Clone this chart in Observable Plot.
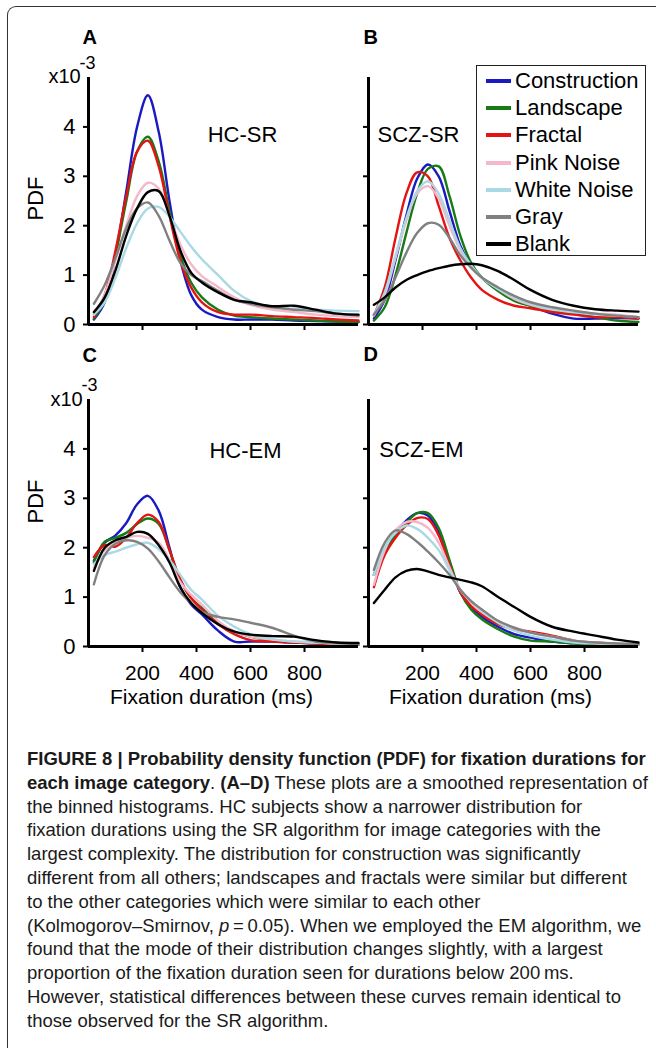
<!DOCTYPE html>
<html>
<head>
<meta charset="utf-8">
<script src="https://cdn.jsdelivr.net/npm/d3@7"></script>
<script src="https://cdn.jsdelivr.net/npm/@observablehq/plot@0.6"></script>
<style>
  html, body { margin: 0; padding: 0; background: #fff; }
  body { width: 656px; height: 1058px; position: relative; overflow: hidden; font-family: "Liberation Sans", Arial, sans-serif; }
  .abs { position: absolute; }
  #frame { position: absolute; left: 7px; top: 6px; width: 720px; height: 1041px; border-top: 1.5px solid #333; border-left: 1.5px solid #333; border-top-left-radius: 9px; }
  #legend { position: absolute; left: 476px; top: 65px; width: 168px; height: 189px; border: 1.5px solid #222; background: #fff; }
  .lrow { position: absolute; left: 0; height: 26px; font-size: 22px; line-height: 26px; color: #000; white-space: nowrap; }
  .sw { position: absolute; left: 9px; top: 11px; width: 25px; height: 4px; }
  .lt { position: absolute; left: 38px; top: 0; }
  #caption { position: absolute; left: 27px; top: 747px; font-size: 18.5px; line-height: 23.8px; color: #1a1a1a; white-space: nowrap; }
</style>
</head>
<body>
<div id="frame"></div>
<div id="pA" class="abs" style="left:0;top:0"></div>
<div id="pB" class="abs" style="left:363px;top:0"></div>
<div id="pC" class="abs" style="left:0;top:335px"></div>
<div id="pD" class="abs" style="left:363px;top:335px"></div>
<div id="legend"></div>
<div id="caption">
<div><b>FIGURE 8 | Probability density function (PDF) for fixation durations for</b></div>
<div><b>each image category</b>. <b>(A–D)</b> These plots are a smoothed representation of</div>
<div>the binned histograms. HC subjects show a narrower distribution for</div>
<div>fixation durations using the SR algorithm for image categories with the</div>
<div>largest complexity. The distribution for construction was significantly</div>
<div>different from all others; landscapes and fractals were similar but different</div>
<div>to the other categories which were similar to each other</div>
<div>(Kolmogorov–Smirnov, <i>p</i>&#8201;=&#8201;0.05). When we employed the EM algorithm, we</div>
<div>found that the mode of their distribution changes slightly, with a largest</div>
<div>proportion of the fixation duration seen for durations below 200&#8201;ms.</div>
<div>However, statistical differences between these curves remain identical to</div>
<div>those observed for the SR algorithm.</div>
</div>
<script>
// ---------- DATA ----------
const durations = [20, 60, 100, 140, 180, 220, 260, 300, 340, 380, 420, 480, 540, 600, 680, 760, 840, 920, 1000];
const categories = ["Construction", "Landscape", "Fractal", "Pink Noise", "White Noise", "Gray", "Blank"];
const colors = ["#1a1ac0", "#167a16", "#e41414", "#f5b7c9", "#a9d9e4", "#808080", "#000000"];
const yTicks = [0, 1, 2, 3, 4];
const xTicks = [200, 400, 600, 800];

// PDF values (x10^-3), one row per category, in category order
const hcSR = [
  [0.10, 0.45, 1.40, 2.70, 4.00, 4.64, 3.90, 2.50, 1.30, 0.60, 0.30, 0.15, 0.10, 0.10, 0.10, 0.08, 0.07, 0.06, 0.05],
  [0.12, 0.50, 1.40, 2.50, 3.50, 3.80, 3.30, 2.30, 1.40, 0.85, 0.55, 0.30, 0.18, 0.15, 0.12, 0.10, 0.08, 0.06, 0.05],
  [0.15, 0.60, 1.50, 2.60, 3.50, 3.72, 3.20, 2.20, 1.30, 0.75, 0.45, 0.25, 0.20, 0.20, 0.17, 0.15, 0.13, 0.10, 0.08],
  [0.20, 0.60, 1.30, 2.00, 2.60, 2.87, 2.75, 2.20, 1.62, 1.22, 0.98, 0.76, 0.55, 0.40, 0.30, 0.25, 0.20, 0.17, 0.15],
  [0.20, 0.45, 0.95, 1.55, 2.05, 2.35, 2.38, 2.18, 1.88, 1.58, 1.32, 1.00, 0.68, 0.48, 0.36, 0.32, 0.30, 0.28, 0.27],
  [0.42, 0.80, 1.35, 1.95, 2.35, 2.47, 2.20, 1.70, 1.25, 1.00, 0.88, 0.68, 0.50, 0.42, 0.35, 0.30, 0.27, 0.22, 0.18],
  [0.25, 0.55, 1.10, 1.80, 2.35, 2.68, 2.70, 2.20, 1.50, 1.05, 0.85, 0.65, 0.50, 0.45, 0.37, 0.38, 0.30, 0.22, 0.20]
];
const sczSR = [
  [0.12, 0.50, 1.30, 2.20, 2.95, 3.24, 3.00, 2.30, 1.60, 1.20, 0.95, 0.70, 0.50, 0.38, 0.22, 0.12, 0.12, 0.13, 0.12],
  [0.08, 0.35, 1.00, 1.85, 2.65, 3.15, 3.20, 2.60, 1.80, 1.25, 0.95, 0.68, 0.48, 0.38, 0.28, 0.22, 0.15, 0.08, 0.05],
  [0.18, 0.75, 1.75, 2.65, 3.08, 3.00, 2.40, 1.75, 1.30, 0.95, 0.70, 0.50, 0.38, 0.33, 0.25, 0.20, 0.15, 0.15, 0.12],
  [0.18, 0.60, 1.35, 2.10, 2.65, 2.80, 2.55, 2.00, 1.50, 1.15, 0.95, 0.72, 0.52, 0.40, 0.30, 0.25, 0.22, 0.20, 0.15],
  [0.20, 0.65, 1.40, 2.15, 2.70, 2.90, 2.65, 2.10, 1.55, 1.20, 0.95, 0.72, 0.55, 0.42, 0.32, 0.25, 0.20, 0.18, 0.15],
  [0.20, 0.50, 0.95, 1.45, 1.85, 2.05, 2.02, 1.75, 1.40, 1.15, 0.95, 0.75, 0.58, 0.45, 0.35, 0.28, 0.22, 0.18, 0.15],
  [0.40, 0.55, 0.75, 0.90, 1.00, 1.08, 1.14, 1.19, 1.22, 1.23, 1.20, 1.08, 0.90, 0.70, 0.50, 0.38, 0.31, 0.28, 0.26]
];
const hcEM = [
  [1.74, 2.10, 2.25, 2.50, 2.88, 3.05, 2.75, 2.00, 1.20, 0.85, 0.65, 0.32, 0.10, 0.10, 0.10, 0.08, 0.06, 0.05, 0.04],
  [1.70, 2.12, 2.20, 2.30, 2.48, 2.59, 2.48, 1.95, 1.35, 0.98, 0.78, 0.48, 0.30, 0.20, 0.12, 0.08, 0.07, 0.05, 0.04],
  [1.81, 2.05, 2.02, 2.20, 2.50, 2.67, 2.52, 1.95, 1.35, 0.98, 0.75, 0.45, 0.25, 0.13, 0.10, 0.08, 0.06, 0.05, 0.04],
  [1.60, 1.95, 2.10, 2.20, 2.24, 2.20, 2.10, 1.75, 1.30, 1.05, 0.85, 0.52, 0.30, 0.20, 0.14, 0.10, 0.08, 0.06, 0.05],
  [1.67, 1.85, 1.92, 2.00, 2.07, 2.10, 1.97, 1.75, 1.45, 1.15, 0.95, 0.62, 0.40, 0.25, 0.15, 0.10, 0.08, 0.06, 0.05],
  [1.26, 1.85, 2.08, 2.15, 2.12, 1.98, 1.72, 1.40, 1.10, 0.88, 0.70, 0.60, 0.55, 0.48, 0.38, 0.22, 0.10, 0.07, 0.05],
  [1.53, 2.00, 2.15, 2.22, 2.32, 2.28, 2.05, 1.70, 1.20, 0.88, 0.68, 0.45, 0.30, 0.24, 0.21, 0.20, 0.13, 0.08, 0.07]
];
const sczEM = [
  [1.45, 1.95, 2.30, 2.55, 2.70, 2.65, 2.30, 1.70, 1.10, 0.80, 0.60, 0.40, 0.25, 0.18, 0.10, 0.07, 0.05, 0.04, 0.04],
  [1.45, 1.90, 2.25, 2.50, 2.70, 2.70, 2.40, 1.75, 1.10, 0.75, 0.55, 0.35, 0.20, 0.12, 0.10, 0.06, 0.05, 0.04, 0.04],
  [1.20, 1.85, 2.20, 2.45, 2.60, 2.58, 2.25, 1.65, 1.10, 0.82, 0.65, 0.45, 0.35, 0.30, 0.22, 0.12, 0.08, 0.05, 0.04],
  [1.25, 1.95, 2.35, 2.52, 2.52, 2.40, 2.10, 1.60, 1.15, 0.90, 0.70, 0.50, 0.38, 0.28, 0.20, 0.12, 0.08, 0.05, 0.04],
  [1.45, 2.00, 2.30, 2.45, 2.38, 2.20, 1.95, 1.55, 1.15, 0.92, 0.72, 0.48, 0.32, 0.22, 0.14, 0.08, 0.06, 0.05, 0.04],
  [1.55, 2.10, 2.35, 2.28, 2.12, 1.92, 1.70, 1.45, 1.15, 0.92, 0.75, 0.52, 0.38, 0.28, 0.20, 0.12, 0.08, 0.06, 0.05],
  [0.88, 1.15, 1.40, 1.53, 1.57, 1.52, 1.45, 1.40, 1.35, 1.30, 1.22, 1.00, 0.80, 0.60, 0.40, 0.30, 0.22, 0.14, 0.08]
];

// ---------- BUILD ----------
function tidy(rows) {
  const out = [];
  rows.forEach((row, i) => row.forEach((v, j) => out.push({cat: categories[i], ms: durations[j], pdf: v})));
  return out;
}

const FONT = "'Liberation Sans', Arial, Helvetica, sans-serif";

function panel(opts) {
  const {rows, title, letter, titleDx, titleDy, letterDx, letterDy, showY, showX, pdfDy, xlabDx, sciDy} = opts;
  const marks = [
    Plot.line(tidy(rows), {x: "ms", y: "pdf", stroke: "cat", strokeWidth: 2.4, curve: "catmull-rom"}),
    Plot.ruleY([0], {strokeWidth: 3}),
    Plot.ruleX([0], {strokeWidth: 3}),
    Plot.axisY({ticks: yTicks, tickSize: 5, tickPadding: 8, fontSize: 22, strokeWidth: 2, label: null,
      tickFormat: showY ? (d => String(d)) : (() => "")}),
    Plot.axisX({ticks: xTicks, tickSize: 6, tickPadding: 13, fontSize: 21, strokeWidth: 2, label: null,
      tickFormat: showX ? (d => String(d)) : (() => "")}),
    Plot.text([title], {frameAnchor: "top-left", lineAnchor: "middle", dx: titleDx, dy: titleDy, textAnchor: "middle", fontSize: 22}),
    Plot.text([letter], {frameAnchor: "top-left", lineAnchor: "middle", dx: letterDx, dy: letterDy, textAnchor: "start", fontSize: 20, fontWeight: "bold"})
  ];
  if (showY) {
    marks.push(
      Plot.text(["x10"], {frameAnchor: "top-left", lineAnchor: "middle", dx: opts.sciDx, dy: sciDy, textAnchor: "start", fontSize: 20}),
      Plot.text(["-3"], {frameAnchor: "top-left", lineAnchor: "middle", dx: opts.sciDx + 31, dy: sciDy - 14, textAnchor: "start", fontSize: 18}),
      Plot.text(["PDF"], {frameAnchor: "left", lineAnchor: "middle", dx: -53, dy: pdfDy, rotate: -90, textAnchor: "middle", fontSize: 22})
    );
  }
  if (showX) {
    marks.push(Plot.text(["Fixation duration (ms)"], {frameAnchor: "bottom", lineAnchor: "middle", dx: xlabDx, dy: 51, textAnchor: "middle", fontSize: 21}));
  }
  return Plot.plot({
    width: opts.width, height: opts.height,
    marginLeft: opts.ml, marginRight: opts.mr, marginTop: opts.mt, marginBottom: opts.mb,
    style: {background: "transparent", fontFamily: FONT, color: "#000", overflow: "visible"},
    x: {domain: [0, 1000]},
    y: {domain: [0, 5]},
    color: {domain: categories, range: colors},
    marks
  });
}

document.getElementById("pA").append(panel({rows: hcSR, title: "HC-SR", letter: "A", width: 363, height: 335, ml: 88, mr: 5, mt: 77, mb: 11,
  titleDx: 154, titleDy: 57, letterDx: -6, letterDy: -40, showY: true, showX: false, pdfDy: -2.5, sciDx: -40, sciDy: -0.5}));
document.getElementById("pB").append(panel({rows: sczSR, title: "SCZ-SR", letter: "B", width: 293, height: 335, ml: 5, mr: 18, mt: 77, mb: 11,
  titleDx: 50, titleDy: 57, letterDx: -5, letterDy: -40, showY: false, showX: false}));
document.getElementById("pC").append(panel({rows: hcEM, title: "HC-EM", letter: "C", width: 363, height: 385, ml: 88, mr: 5, mt: 64, mb: 74,
  titleDx: 157, titleDy: 51, letterDx: -6, letterDy: -44, showY: true, showX: true, pdfDy: -21.5, xlabDx: -12, sciDx: -38, sciDy: 0}));
document.getElementById("pD").append(panel({rows: sczEM, title: "SCZ-EM", letter: "D", width: 293, height: 385, ml: 5, mr: 18, mt: 64, mb: 74,
  titleDx: 53, titleDy: 50, letterDx: -5, letterDy: -45, showY: false, showX: true, xlabDx: -13}));

// legend
const leg = document.getElementById("legend");
categories.forEach((c, i) => {
  const row = document.createElement("div");
  row.className = "lrow";
  row.style.top = (2 + i * 27.2) + "px";
  row.innerHTML = `<span class="sw" style="background:${colors[i]}"></span><span class="lt">${c}</span>`;
  leg.append(row);
});
</script>
</body>
</html>
